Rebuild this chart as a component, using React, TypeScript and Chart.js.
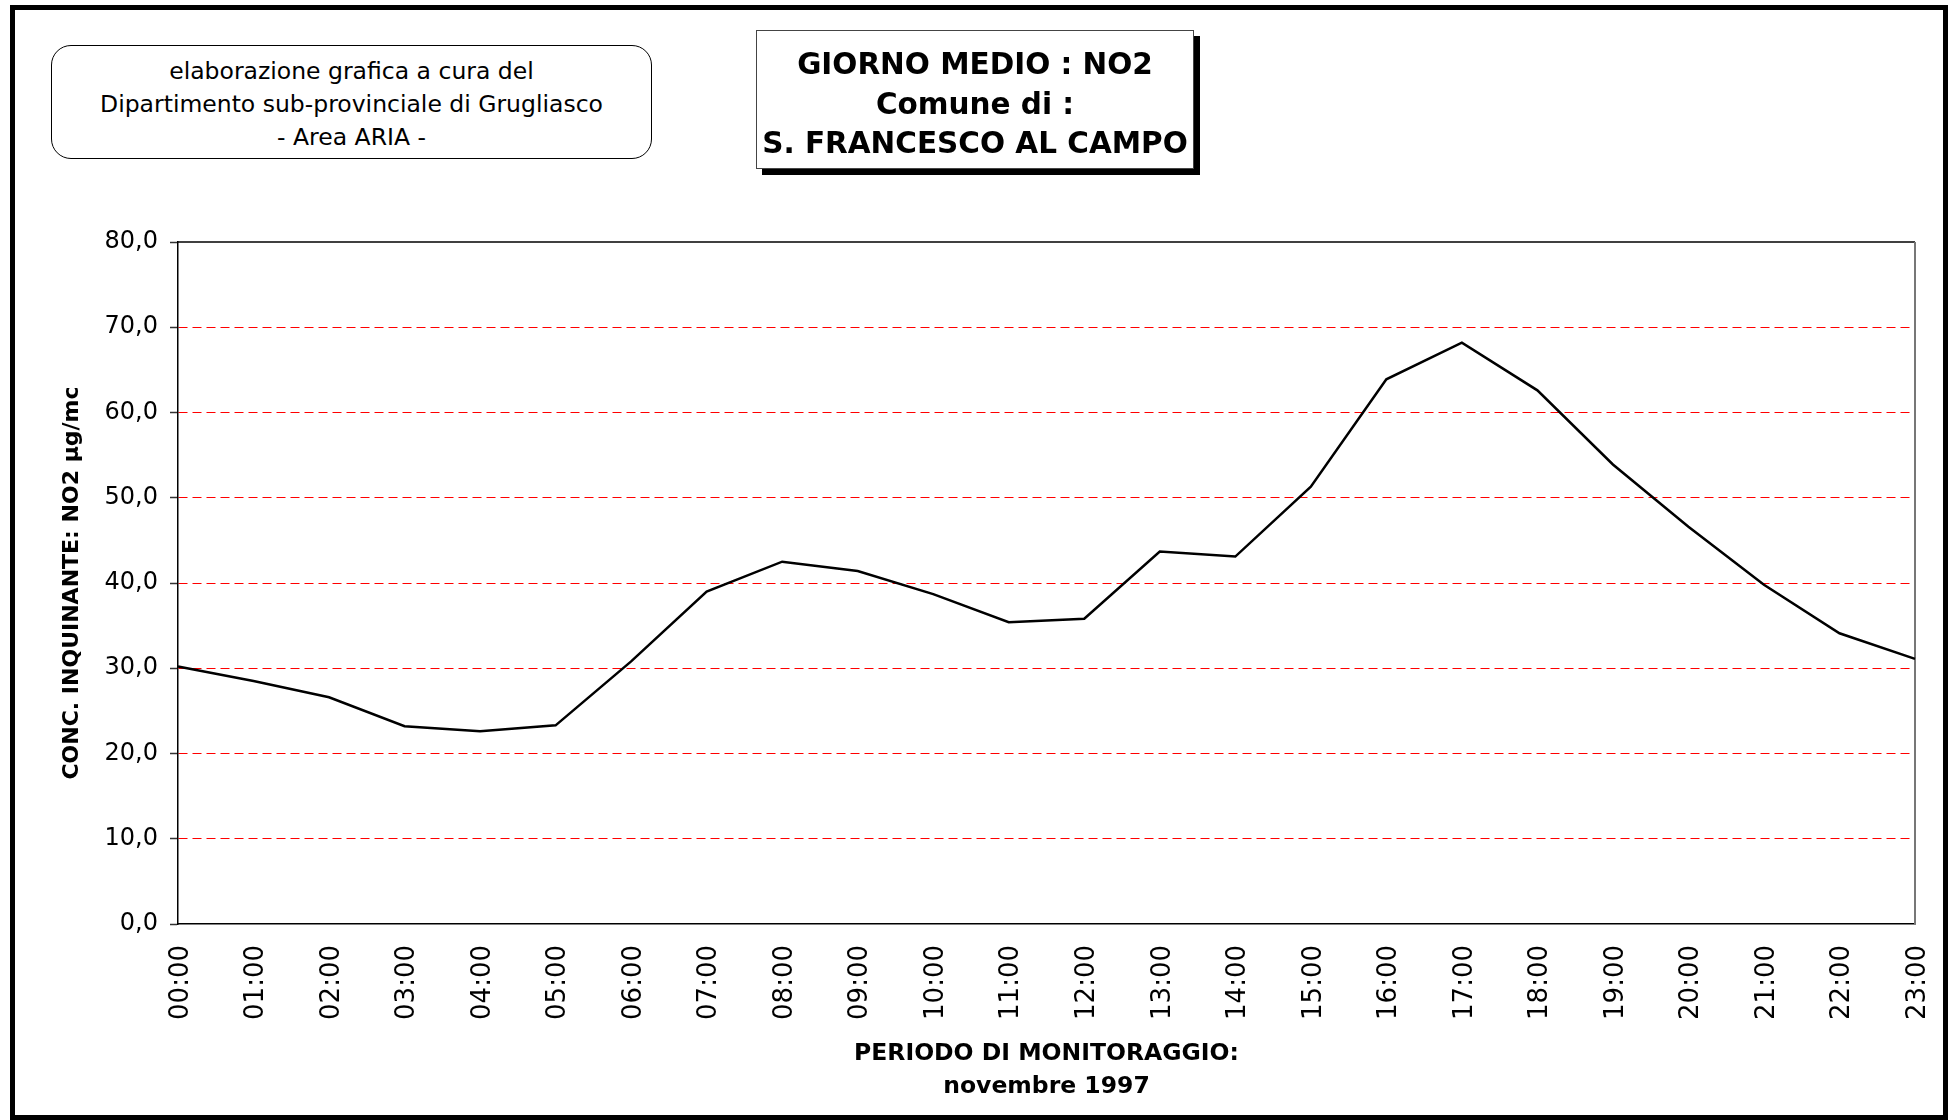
import React, { useEffect, useRef } from "react";
import { Chart, registerables } from "chart.js";

Chart.register(...registerables);

const hours = [
  "00:00", "01:00", "02:00", "03:00", "04:00", "05:00", "06:00", "07:00",
  "08:00", "09:00", "10:00", "11:00", "12:00", "13:00", "14:00", "15:00",
  "16:00", "17:00", "18:00", "19:00", "20:00", "21:00", "22:00", "23:00",
];

const no2Values = [
  30.2, 28.5, 26.6, 23.2, 22.6, 23.3, 30.8, 39.0,
  42.5, 41.4, 38.7, 35.4, 35.8, 43.7, 43.1, 51.3,
  63.9, 68.2, 62.6, 53.9, 46.6, 39.8, 34.1, 31.1,
];

const yTickLabels = ["0,0", "10,0", "20,0", "30,0", "40,0", "50,0", "60,0", "70,0", "80,0"];

const creditLines = [
  "elaborazione grafica a cura del",
  "Dipartimento sub-provinciale di Grugliasco",
  "- Area ARIA -",
];

const titleLines = ["GIORNO MEDIO : NO2", "Comune di :", "S. FRANCESCO AL CAMPO"];

const yAxisTitle = "CONC. INQUINANTE: NO2 µg/mc";
const xAxisTitle = ["PERIODO DI MONITORAGGIO:", "novembre 1997"];

const FONT = "'DejaVu Sans', sans-serif";

const framePlugin = {
  id: "plotFrame",
  beforeDatasetsDraw(chart: any) {
    const { ctx, chartArea } = chart;
    ctx.save();
    ctx.lineWidth = 1.5;
    ctx.strokeStyle = "#000";
    ctx.beginPath();
    ctx.moveTo(chartArea.left, chartArea.top);
    ctx.lineTo(chartArea.right, chartArea.top);
    ctx.stroke();
    ctx.strokeStyle = "#777";
    ctx.lineWidth = 2;
    ctx.beginPath();
    ctx.moveTo(chartArea.right, chartArea.top);
    ctx.lineTo(chartArea.right, chartArea.bottom);
    ctx.stroke();
    ctx.restore();
  },
};

export default function App() {
  const canvasRef = useRef<HTMLCanvasElement | null>(null);

  useEffect(() => {
    const canvas = canvasRef.current;
    if (!canvas) return;
    const chart = new Chart(canvas, {
      type: "line",
      data: {
        labels: hours,
        datasets: [
          {
            data: no2Values,
            borderColor: "#000",
            borderWidth: 2.5,
            pointRadius: 0,
            fill: false,
            tension: 0,
          },
        ],
      },
      options: {
        responsive: false,
        animation: false,
        events: [],
        layout: { padding: { left: 0, top: 242, right: 35, bottom: 0 } },
        plugins: {
          legend: { display: false },
          tooltip: { enabled: false },
          title: { display: false },
        },
        scales: {
          x: {
            type: "category",
            offset: false,
            grid: { display: false, drawTicks: false },
            border: { display: true, color: "#000", width: 1.5 },
            ticks: {
              autoSkip: false,
              minRotation: 90,
              maxRotation: 90,
              padding: 21,
              labelOffset: 3,
              color: "#000",
              font: { family: FONT, size: 26 },
            },
            title: {
              display: true,
              text: xAxisTitle,
              color: "#000",
              font: { family: FONT, size: 23.5, weight: "bold", lineHeight: 1.42 },
              padding: { top: 0, bottom: 16 },
            },
            afterFit: (s: any) => {
              s.height = 196;
              s.paddingLeft = 0;
              s.paddingRight = 0;
            },
          },
          y: {
            min: 0,
            max: 80,
            ticks: {
              stepSize: 10,
              padding: 12,
              color: "#000",
              font: { family: FONT, size: 24 },
              callback: (_v: any, i: number) => yTickLabels[i],
            },
            grid: {
              color: (c: any) =>
                c.tick && (c.tick.value === 0 || c.tick.value === 80) ? "rgba(0,0,0,0)" : "#ff0000",
              lineWidth: 1,
              tickColor: "#333",
              tickLength: 8,
              tickWidth: 1.5,
              tickBorderDash: [],
            },
            border: { display: true, color: "#000", width: 1.5, dash: [9, 5] },
            title: {
              display: true,
              text: yAxisTitle,
              color: "#000",
              font: { family: FONT, size: 22, weight: "bold", lineHeight: 1.2 },
              padding: { top: 59, bottom: 0 },
            },
            afterFit: (s: any) => {
              s.width = 178;
            },
          },
        },
      },
      plugins: [framePlugin],
    } as any);
    return () => chart.destroy();
  }, []);

  return (
    <div
      style={{
        position: "fixed",
        left: 0,
        top: 0,
        width: 1950,
        height: 1120,
        overflow: "hidden",
        background: "#fff",
      }}
    >
      <canvas
        ref={canvasRef}
        width={1950}
        height={1120}
        style={{ position: "absolute", left: 0, top: 0, width: 1950, height: 1120, display: "block" }}
      />
      <div
        style={{
          position: "absolute",
          left: 10,
          top: 5,
          width: 1938,
          height: 1115,
          border: "5px solid #000",
          boxSizing: "border-box",
          pointerEvents: "none",
        }}
      />
      <div
        style={{
          position: "absolute",
          left: 51,
          top: 45,
          width: 601,
          height: 114,
          border: "1.5px solid #000",
          borderRadius: 20,
          boxSizing: "border-box",
          background: "#fff",
          display: "flex",
          flexDirection: "column",
          justifyContent: "center",
          alignItems: "center",
          paddingTop: 5,
          fontFamily: FONT,
          fontSize: 23.5,
          lineHeight: "33px",
          color: "#000",
        }}
      >
        {creditLines.map((l) => (
          <div key={l} style={{ whiteSpace: "nowrap" }}>
            {l}
          </div>
        ))}
      </div>
      <div
        style={{
          position: "absolute",
          left: 756,
          top: 30,
          width: 438,
          height: 139,
          border: "1px solid #444",
          boxSizing: "border-box",
          background: "#fff",
          boxShadow: "6px 6px 0 #000",
          display: "flex",
          flexDirection: "column",
          justifyContent: "center",
          alignItems: "center",
          paddingTop: 10,
          fontFamily: FONT,
          fontWeight: "bold",
          fontSize: 29.5,
          lineHeight: "39.5px",
          color: "#000",
        }}
      >
        {titleLines.map((l) => (
          <div key={l} style={{ whiteSpace: "nowrap" }}>
            {l}
          </div>
        ))}
      </div>
    </div>
  );
}
